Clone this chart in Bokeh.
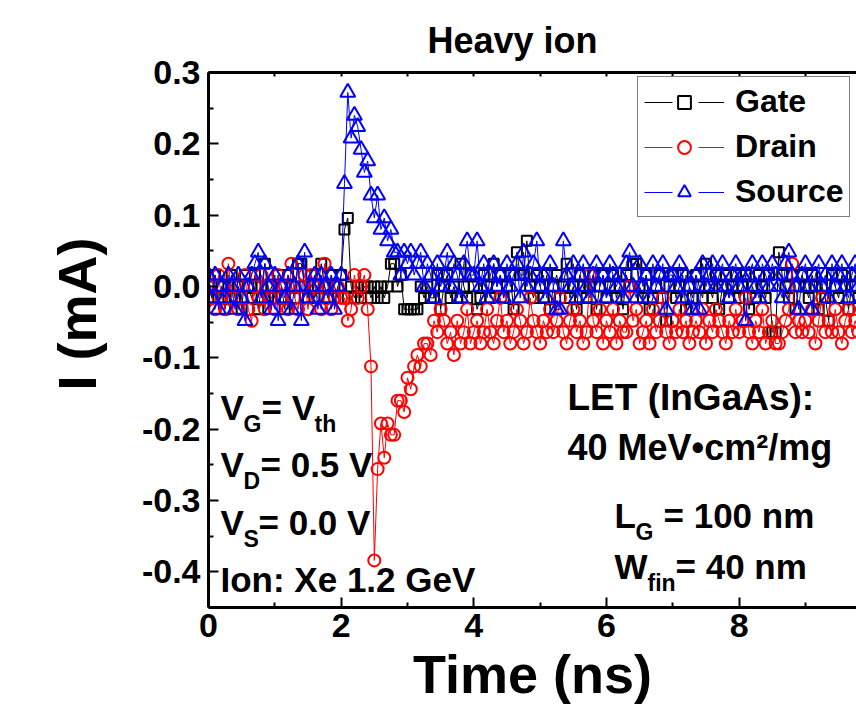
import math
from bokeh.plotting import figure
from bokeh.models import (Range1d, LinearAxis, Label, Legend, LegendItem,
                          ColumnDataSource, FixedTicker, Title, PrintfTickFormatter)
from bokeh.embed import file_html
from bokeh.resources import INLINE

# ---------------- data ----------------
time_ns = [round(0.05 * i, 2) for i in range(200)]   # scope sampling grid, 50 ps

gate_mA = [
    0, -0.016, 0.016, -0.016, 0, -0.032, 0, 0.016, -0.016, 0, -0.032, 0.016, 0, -0.016, 0.016, -0.032, 0, 0.032, -0.016, 0,
    -0.016, 0.016, 0, -0.032, 0.016, 0, -0.016, 0.032, 0.032, 0, -0.016, 0.016, -0.016, 0, 0.032, 0, -0.016, 0.016, 0, -0.016,
    0.016, 0.08, 0.096, 0, -0.016, 0, -0.016, 0, 0, -0.016, 0, -0.016, 0, -0.016, 0, 0.032, 0.032, 0, 0.016, -0.032,
    -0.032, -0.032, -0.032, -0.032, 0, -0.016, 0, -0.016, -0.016, 0.016, -0.032, 0, 0.016, -0.016, 0, -0.016, 0.032, 0, -0.016, 0.016,
    0, -0.032, -0.016, 0.016, 0, -0.016, 0.032, 0, 0.016, -0.016, 0, 0.016, -0.032, 0.048, 0.016, 0.016, 0.064, 0, -0.016, 0.016,
    0, -0.016, 0.016, -0.032, 0, 0.016, -0.016, 0, 0.032, -0.016, 0, -0.032, 0.016, 0, -0.016, 0, 0.016, -0.032, 0, 0.016,
    -0.016, 0, 0.016, -0.016, 0, -0.032, 0.016, 0, 0.032, 0.032, 0, -0.016, 0.016, -0.032, -0.016, 0, 0.016, -0.016, -0.048, 0,
    0.016, -0.016, 0, 0.016, -0.032, 0, -0.016, 0.016, 0, -0.016, 0.032, 0, -0.016, 0.016, -0.032, 0, 0.016, -0.016, 0, 0.016,
    -0.016, 0, 0.016, -0.032, 0, -0.016, 0.016, 0, -0.016, 0.016, -0.064, -0.064, 0.048, 0.016, 0, -0.016, 0.016, -0.032, 0, 0.016,
    0, -0.016, 0.016, 0, -0.032, 0, -0.016, -0.048, 0.016, 0, -0.016, 0.016, 0, -0.032, 0, 0.016, -0.016, 0, 0.016, 0,
]

drain_mA = [
    0, -0.016, -0.032, 0.016, -0.016, -0.032, 0.032, -0.016, 0, -0.032, -0.016, 0.016, -0.032, -0.048, 0, -0.016, 0.016, -0.032, 0, -0.016,
    -0.032, 0.016, -0.016, 0, -0.032, 0.032, -0.016, -0.032, 0, 0.016, -0.032, 0.016, 0, -0.016, -0.032, 0.032, 0, -0.032, -0.016, 0,
    -0.016, -0.016, -0.048, -0.032, 0.016, -0.016, 0, 0.016, -0.032, -0.112, -0.384, -0.256, -0.192, -0.24, -0.192, -0.208, -0.208, -0.16, -0.16, -0.176,
    -0.128, -0.144, -0.112, -0.096, -0.112, -0.08, -0.08, -0.096, -0.048, -0.064, -0.032, -0.048, -0.08, -0.064, -0.096, -0.048, -0.08, -0.064, -0.032, -0.08,
    -0.064, -0.048, -0.08, -0.064, -0.032, -0.064, -0.08, -0.048, -0.016, -0.064, -0.048, -0.08, -0.064, -0.032, -0.048, -0.08, -0.064, -0.016, -0.048, -0.064,
    -0.08, -0.048, -0.064, -0.032, -0.064, -0.048, -0.016, -0.064, -0.08, -0.048, -0.032, -0.064, -0.048, -0.08, -0.064, 0.016, -0.048, -0.064, -0.032, -0.08,
    -0.048, -0.064, -0.032, -0.08, -0.048, -0.064, -0.064, 0, -0.048, -0.032, -0.08, -0.064, -0.048, -0.08, -0.032, -0.064, -0.048, -0.016, -0.064, -0.08,
    -0.048, -0.064, -0.032, -0.064, -0.048, -0.08, -0.064, -0.048, -0.064, -0.032, -0.08, -0.048, -0.064, -0.032, -0.048, -0.064, -0.08, -0.048, -0.064, -0.032,
    -0.064, -0.048, -0.016, -0.064, -0.08, -0.048, -0.064, -0.032, -0.08, -0.064, -0.048, -0.08, -0.08, -0.064, -0.048, -0.032, 0.032, -0.064, -0.048, -0.064,
    -0.048, -0.064, -0.032, -0.08, -0.048, -0.016, -0.064, -0.048, -0.064, -0.032, -0.064, -0.08, -0.048, -0.032, -0.064, -0.048, -0.064, -0.032, -0.048, -0.064,
]

source_mA = [
    0.016, -0.016, 0.016, -0.032, 0, -0.016, 0.016, 0, -0.032, 0.016, -0.016, -0.048, 0, 0.016, 0.032, 0.048, -0.016, 0.032, 0, -0.032,
    0.016, -0.048, 0, -0.016, 0.016, -0.032, 0, 0.032, -0.048, 0.048, -0.016, 0, 0.016, -0.032, 0.016, 0, -0.016, 0.016, -0.032, 0,
    0.016, 0.144, 0.272, 0.208, 0.24, 0.224, 0.192, 0.16, 0.176, 0.128, 0.096, 0.128, 0.08, 0.096, 0.064, 0.08, 0.048, 0.048, 0.016, 0.048,
    0.032, 0.048, 0.016, 0.032, 0.048, 0, 0.032, 0.016, -0.016, 0.032, 0, 0.016, 0.048, 0, 0.032, 0.016, -0.016, 0.032, 0.064, 0.016,
    0.016, 0.064, 0, 0.032, -0.016, 0.016, 0.032, 0, 0.016, -0.016, 0.032, 0, 0.016, 0.032, -0.016, 0.048, 0, 0.016, 0.032, 0.064,
    0, 0.016, -0.016, 0.032, 0, -0.032, -0.032, 0.064, 0.016, 0, 0.032, -0.016, 0.016, 0.032, 0, -0.016, 0.016, 0.032, 0, 0.016,
    -0.016, 0.032, 0.016, 0, 0.016, -0.016, 0.032, 0.048, 0, -0.016, 0.032, 0, 0.016, -0.016, 0.032, 0, 0.016, 0.032, -0.032, 0.016,
    0.016, 0, 0.032, -0.016, 0.016, 0, -0.032, 0.016, -0.032, 0.032, 0, 0.016, 0.032, 0, 0.016, 0.032, 0, -0.016, 0.016, 0.032,
    0, 0.016, -0.048, 0.016, 0.032, 0, -0.016, 0.032, 0.016, 0, 0.032, 0.016, 0, -0.016, 0.032, 0.048, 0.016, 0, -0.032, 0.016,
    0.032, 0, -0.032, 0.016, 0.032, 0, 0.016, -0.016, 0.032, 0, 0.016, 0.032, 0, -0.016, 0.016, 0.032, 0, 0.016, 0.032, 0,
]

series_names = ["Gate", "Drain", "Source"]
x_major_ticks = [0, 2, 4, 6, 8, 10]
x_minor_ticks = [1, 3, 5, 7, 9]
y_major_ticks = [-0.4, -0.3, -0.2, -0.1, 0.0, 0.1, 0.2, 0.3]
y_minor_ticks = [-0.45, -0.35, -0.25, -0.15, -0.05, 0.05, 0.15, 0.25]

# ---------------- figure ----------------
FONT = "Liberation Sans"
FL, FB = 208, 607          # frame left / bottom in canvas px

src = ColumnDataSource(dict(t=time_ns, gate=gate_mA, drain=drain_mA, source=source_mA))

p = figure(width=856, height=707, output_backend="svg", toolbar_location=None,
           x_range=Range1d(0, 9.77), y_range=Range1d(-0.45, 0.3),
           x_axis_location=None, y_axis_location=None,
           min_border_left=FL, min_border_right=0, min_border_top=72,
           min_border_bottom=100)
p.grid.visible = False
p.outline_line_color = None
p.background_fill_color = "white"
p.border_fill_color = "white"


def style_axis(ax, major_in, minor_in, size="34px", standoff=8):
    ax.axis_line_width = 3
    ax.axis_line_color = "black"
    ax.major_tick_line_width = 2
    ax.minor_tick_line_width = 2
    ax.major_tick_in = major_in
    ax.major_tick_out = 0
    ax.minor_tick_in = minor_in
    ax.minor_tick_out = 0
    ax.major_label_text_font = FONT
    ax.major_label_text_font_style = "bold"
    ax.major_label_text_font_size = size
    ax.major_label_text_color = "black"
    ax.major_label_standoff = standoff


left = LinearAxis(ticker=FixedTicker(ticks=y_major_ticks, minor_ticks=y_minor_ticks),
                  formatter=PrintfTickFormatter(format="%.1f"))
style_axis(left, 10, 5, standoff=8)
p.add_layout(left, "left")

bottom = LinearAxis(ticker=FixedTicker(ticks=x_major_ticks, minor_ticks=x_minor_ticks))
style_axis(bottom, 10, 5, standoff=6)
bottom.axis_label = "Time (ns)"
bottom.axis_label_text_font = FONT
bottom.axis_label_text_font_style = "bold"
bottom.axis_label_text_font_size = "54px"
bottom.axis_label_text_color = "black"
bottom.axis_label_standoff = 4
p.add_layout(bottom, "below")

top = LinearAxis(ticker=FixedTicker(ticks=x_major_ticks, minor_ticks=x_minor_ticks),
                 major_label_overrides={t: "" for t in x_major_ticks})
style_axis(top, 4, 4, size="10px", standoff=0)
p.add_layout(top, "above")

p.title.text = "Heavy ion"
p.title.text_font = FONT
p.title.text_font_style = "bold"
p.title.text_font_size = "36px"
p.title.text_color = "black"
p.title.align = "left"
p.title.offset = 219
p.title.standoff = 24

ytitle = Title(text="I (mA)", align="left", offset=217, standoff=64,
               text_font=FONT, text_font_style="bold", text_font_size="54px",
               text_color="black")
p.add_layout(ytitle, "left")

# ---------------- series ----------------
colors = ["black", "red", "blue"]
markers = ["square", "circle", "triangle"]
sizes = [10, 12, 15]
cols = ["gate", "drain", "source"]
items = []
for name, col, c, m, s in zip(series_names, cols, colors, markers, sizes):
    p.line("t", col, source=src, line_color=c, line_width=1)
    sc = p.scatter("t", col, source=src, marker=m, size=s, line_color=c,
                   fill_color=None, line_width=2)
    # legend-only line sample (line - gap - line), lies outside the visible range
    off = ColumnDataSource(dict(x=[-20, -19], y=[0, 0]))
    dummy = p.line("x", "y", source=off, line_color=c, line_width=1,
                   line_dash="28 26")
    items.append(LegendItem(label=name, renderers=[dummy, sc]))

leg = Legend(items=items, location=(637 - FL, FB - 217),
             glyph_width=80, glyph_height=32, label_height=32,
             spacing=8, padding=6, margin=0, label_standoff=11,
             border_line_color="black", border_line_width=1,
             background_fill_color="white", background_fill_alpha=1,
             label_text_font=FONT, label_text_font_style="bold",
             label_text_font_size="32px", label_text_color="black")
p.add_layout(leg)


# ---------------- text annotations ----------------
DY = -11   # baseline correction


def lab(text, x, y, size, **kw):
    p.add_layout(Label(x=x - FL, y=FB - (y + DY), x_units="screen", y_units="screen",
                       text=text, text_font=FONT, text_font_style="bold",
                       text_font_size=f"{size}px", text_color="black",
                       text_baseline="alphabetic", **kw))


# bias conditions
lab("V", 220, 418, 35); lab("G", 243, 434, 23); lab("= V", 261, 418, 35); lab("th", 314, 434, 23)
lab("V", 220, 475, 35); lab("D", 243, 491, 23); lab("= 0.5 V", 260, 475, 35)
lab("V", 220, 533, 35); lab("S", 243, 549, 23); lab("= 0.0 V", 258, 533, 35)
lab("Ion: Xe 1.2 GeV", 220, 590, 35)

# LET and geometry
lab("LET (InGaAs):", 567, 408, 37)
lab("40 MeV\u2022cm\u00b2/mg", 567, 458, 36)
lab("L", 614, 526, 35); lab("G", 635, 542, 23); lab("= 100 nm", 663, 526, 35)
lab("W", 614, 577, 35); lab("fin", 647, 593, 23); lab("= 40 nm", 675, 577, 35)

open("out.html", "w").write(file_html(p, INLINE))
